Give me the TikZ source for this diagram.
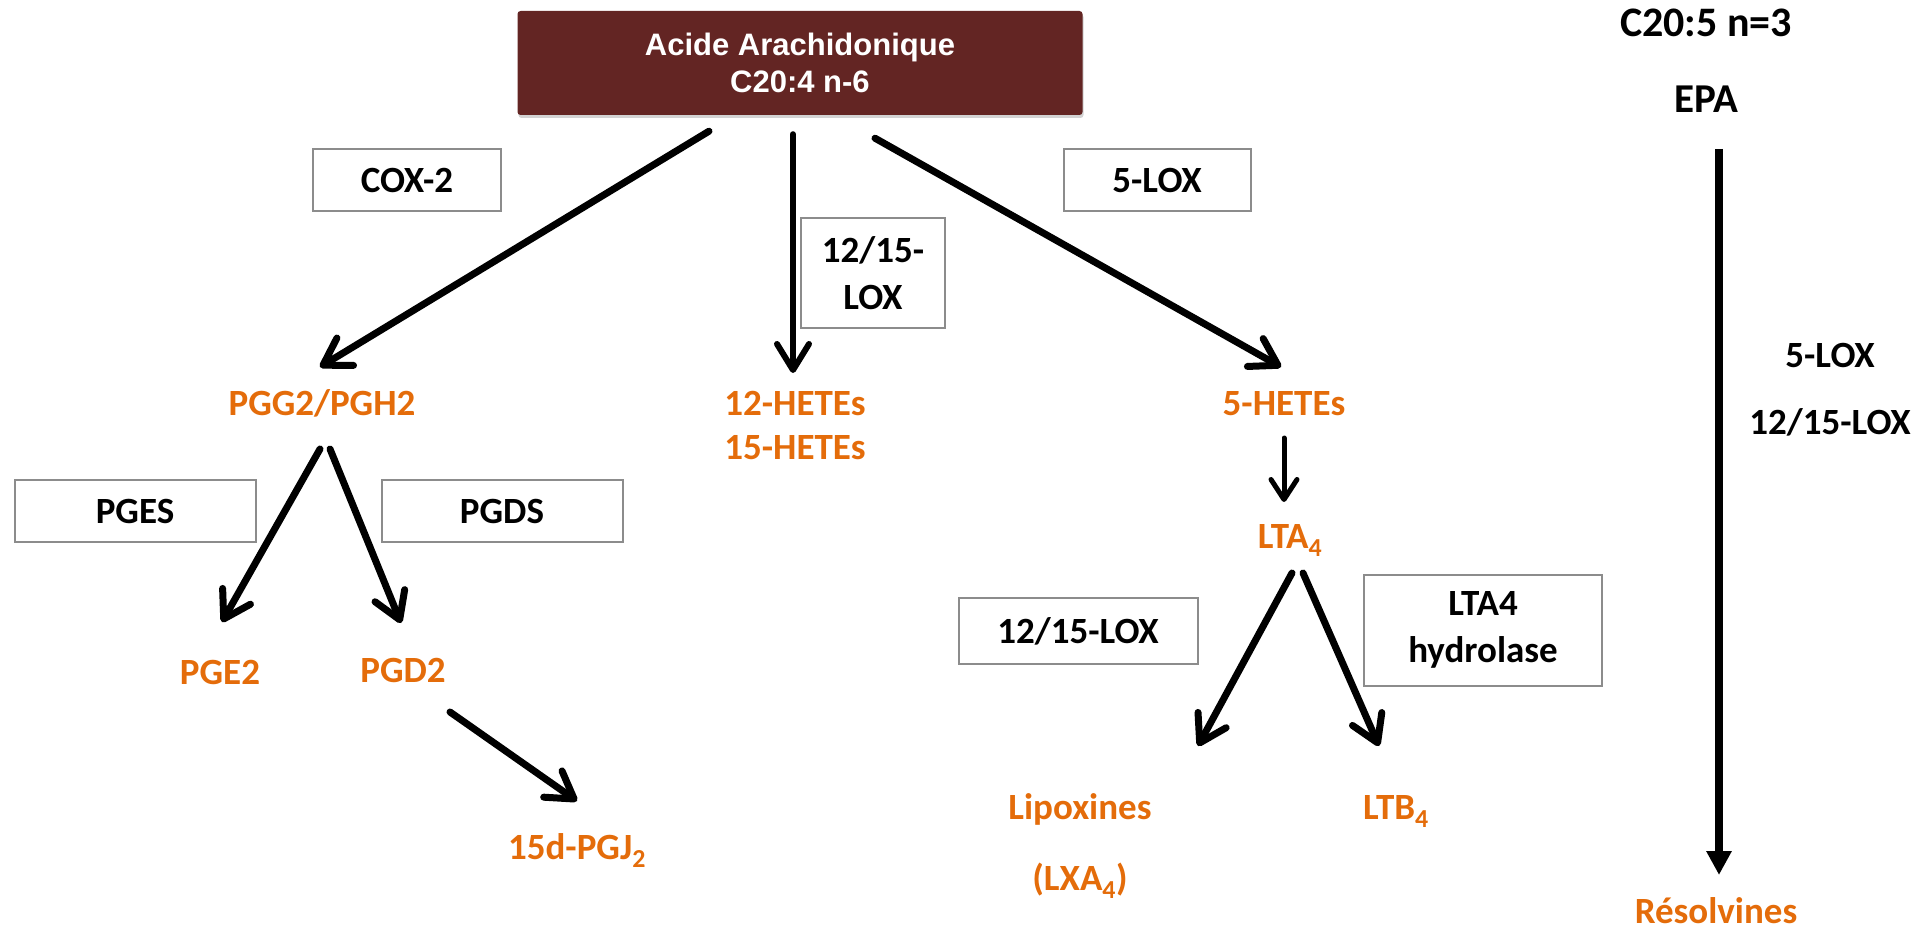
\documentclass[tikz,border=0pt]{standalone}
\usepackage{fontspec}
\setmainfont{Carlito}
\newfontfamily\arialfont{Liberation Sans}
\usetikzlibrary{calc}
\usetikzlibrary{arrows.meta}
\usetikzlibrary{shadows}
\definecolor{acred}{HTML}{632523}
\definecolor{prodorange}{HTML}{E46C0A}
\definecolor{boxgray}{HTML}{8C8C8C}
\tikzset{
    prod/.style={anchor=base,text=prodorange,inner sep=0pt,align=center,
        font=\fontsize{37}{44}\selectfont\bfseries},
    lbl/.style={anchor=base,inner sep=0pt,align=center,
        font=\fontsize{37}{44}\selectfont\bfseries},
    enz/.style={draw=boxgray,line width=2pt,inner sep=0pt,align=center,
        font=\fontsize{37}{47}\selectfont\bfseries},
    fl/.style={line width=7pt,line cap=round,
        -{Straight Barb[length=26pt,width=32pt,round]}},
    flthin/.style={line width=5pt,line cap=round,
        -{Straight Barb[length=20pt,width=26pt,round]}},
}

\begin{document}
\begin{tikzpicture}[x=1pt,y=-1pt]
                \useasboundingbox (0,0) rectangle (1917,931);
                \node[fill=acred,rounded corners=3pt,
                    drop shadow={opacity=0.35,shadow xshift=1pt,shadow yshift=-3pt},
                    minimum width=565pt,minimum height=104pt,text=white,align=center,
                    font=\arialfont\fontsize{31}{37}\selectfont\bfseries]
                    (aa) at (800,63) {Acide Arachidonique\\C20:4 n-6};
                \node[lbl,font=\fontsize{42}{44}\selectfont\bfseries] (c20) at (1706,37) {C20:5 n=3};
                \node[lbl,font=\fontsize{41}{44}\selectfont\bfseries] (epa) at (1706,113) {EPA};

                \node[enz,minimum width=188pt,minimum height=61pt] (cox) at (407,180) {COX-2};
                \node[enz,minimum width=144pt,minimum height=110pt] (lox) at (873,273) {12/15-\\LOX};
                \node[enz,minimum width=187pt,minimum height=61pt] (loxc) at (1157,180) {5-LOX};
                \node[enz,minimum width=241pt,minimum height=62pt] (pges) at (135,511) {PGES};
                \node[enz,minimum width=241pt,minimum height=62pt] (pgds) at (502,511) {PGDS};
                \node[enz,minimum width=239pt,minimum height=66pt] (loxb) at (1078,631) {12/15-LOX};
                \node[enz,minimum width=238pt,minimum height=111pt] (hyd) at (1483,630) {LTA4\\hydrolase};

                \node[prod] (pgg) at (322,415) {PGG2/PGH2};
                \node[prod] (hete) at (795,459) {12-HETEs\\15-HETEs};
                \node[prod] (hetec) at (1284,415) {5-HETEs};
                \node[prod] (lta) at (1290,548) {LTA\textsubscript{4}};
                \node[prod] (pge) at (220,684) {PGE2};
                \node[prod] (pgd) at (403,682) {PGD2};
                \node[prod] (pgj) at (577,859) {15d-PGJ\textsubscript{2}};
                \node[prod] (lipo) at (1080,890) {Lipoxines\\[27pt](LXA\textsubscript{4})};
                \node[prod] (ltb) at (1396,819) {LTB\textsubscript{4}};
                \node[prod] (res) at (1716,923) {Résolvines};
                \node[lbl] (loxr) at (1830,367) {5-LOX};
                \node[lbl] (loxrb) at (1830,434) {12/15-LOX};

                \draw[fl] ($(aa.south)+(-91,16)$) -- ($(pgg.base)+(-2,-48)$);
                \draw[fl,line width=6pt] ($(aa.south)+(-7,19)$) -- ($(hete.base)+(-2,-86)$);
                \draw[fl] ($(aa.south)+(75,23)$) -- ($(hetec.base)+(-3,-48)$);
                \draw[flthin] ($(hetec.base)+(0,23)$) -- ($(lta.base)+(-6,-46)$);
                \draw[fl] ($(pgg.base)+(-2,34)$) -- ($(pge.base)+(2,-62)$);
                \draw[fl] ($(pgg.base)+(8,34)$) -- ($(pgd.base)+(-2,-59)$);
                \draw[fl] ($(pgd.base)+(47,30)$) -- ($(pgj.base)+(0,-58)$);
                \draw[fl] ($(lta.base)+(2,25)$) -- ($(lipo.base)+(118,-144)$);
                \draw[fl] ($(lta.base)+(13,25)$) -- ($(ltb.base)+(-17,-73)$);
                \draw[line width=8pt,-{Triangle[length=24pt,width=24pt]}]
                    ($(epa.base)+(13,36)$) -- ($(res.base)+(3,-48)$);
            \end{tikzpicture}
\end{document}
